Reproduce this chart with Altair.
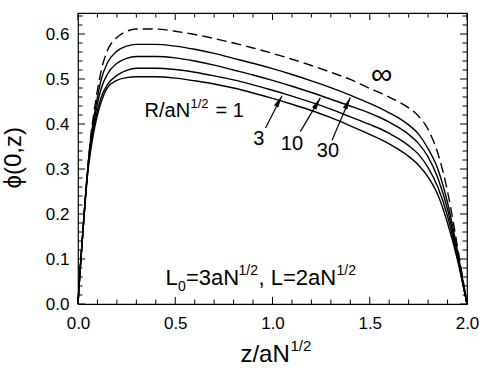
import altair as alt
import pandas as pd

# ---------------- data ----------------
z = [0, 0.01, 0.02, 0.035, 0.05, 0.065, 0.08, 0.1, 0.12, 0.15, 0.2, 0.25, 0.3, 0.4, 0.5,
     0.6, 0.7, 0.8, 0.9, 1.0, 1.1, 1.2, 1.3, 1.4, 1.5, 1.55, 1.6, 1.65, 1.7, 1.75, 1.8,
     1.85, 1.9, 1.95, 2.0]

phi_inf = [0, 0.07, 0.13, 0.22, 0.30, 0.37, 0.42, 0.475, 0.52, 0.562, 0.592, 0.606, 0.611,
           0.611, 0.606, 0.599, 0.590, 0.580, 0.569, 0.557, 0.544, 0.530, 0.515, 0.499,
           0.479, 0.470, 0.460, 0.449, 0.436, 0.418, 0.388, 0.335, 0.25, 0.13, 0.0]
phi_30 = [0, 0.07, 0.13, 0.22, 0.30, 0.365, 0.41, 0.46, 0.50, 0.535, 0.562, 0.573, 0.577,
          0.577, 0.573, 0.566, 0.557, 0.546, 0.535, 0.523, 0.510, 0.496, 0.481, 0.464,
          0.446, 0.436, 0.425, 0.413, 0.398, 0.378, 0.345, 0.30, 0.225, 0.12, 0.0]
phi_10 = [0, 0.07, 0.13, 0.22, 0.30, 0.36, 0.40, 0.445, 0.48, 0.51, 0.535, 0.546, 0.550,
          0.550, 0.547, 0.540, 0.531, 0.520, 0.509, 0.497, 0.484, 0.470, 0.455, 0.440,
          0.424, 0.415, 0.404, 0.392, 0.377, 0.357, 0.327, 0.28, 0.21, 0.11, 0.0]
phi_3 = [0, 0.07, 0.13, 0.22, 0.295, 0.35, 0.39, 0.43, 0.46, 0.487, 0.508, 0.519, 0.524,
         0.524, 0.521, 0.515, 0.507, 0.498, 0.487, 0.475, 0.462, 0.448, 0.433, 0.416,
         0.399, 0.39, 0.379, 0.367, 0.352, 0.333, 0.303, 0.26, 0.195, 0.105, 0.0]
phi_1 = [0, 0.07, 0.13, 0.215, 0.29, 0.34, 0.38, 0.42, 0.45, 0.48, 0.497, 0.503, 0.505,
         0.505, 0.502, 0.496, 0.489, 0.480, 0.469, 0.457, 0.444, 0.430, 0.414, 0.396,
         0.377, 0.367, 0.356, 0.343, 0.328, 0.309, 0.282, 0.243, 0.18, 0.10, 0.0]

x_major = [0.0, 0.5, 1.0, 1.5, 2.0]
x_minor = [0.1, 0.2, 0.3, 0.4, 0.6, 0.7, 0.8, 0.9, 1.1, 1.2, 1.3, 1.4, 1.6, 1.7, 1.8, 1.9]
y_major = [0.0, 0.1, 0.2, 0.3, 0.4, 0.5, 0.6]
y_minor = [0.02, 0.04, 0.06, 0.08, 0.12, 0.14, 0.16, 0.18, 0.22, 0.24, 0.26, 0.28,
           0.32, 0.34, 0.36, 0.38, 0.42, 0.44, 0.46, 0.48, 0.52, 0.54, 0.56, 0.58,
           0.62, 0.64]

arrow_label = ["3", "10", "30"]
arrow_tip_z = [1.049, 1.246, 1.40]
arrow_tip_phi = [0.463, 0.458, 0.459]
arrow_tail_z = [0.964, 1.143, 1.306]
arrow_tail_phi = [0.391, 0.383, 0.364]
arrow_angle = [29, 30, 25]
label_z = [0.93, 1.10, 1.285]
label_phi = [0.366, 0.356, 0.339]

inf_label_z = [1.562]
inf_label_phi = [0.509]

# ---------------- styling ----------------
W, H = 389, 291
FONT = "Liberation Sans"
XDOM = [0, 2.0]
YDOM = [0, 0.6467]
MAJ, MIN = 7, 4.5

curves = pd.DataFrame({
    "z": z * 4,
    "phi": phi_1 + phi_3 + phi_10 + phi_30,
    "R": ["1"] * len(z) + ["3"] * len(z) + ["10"] * len(z) + ["30"] * len(z),
})
dashed = pd.DataFrame({"z": z, "phi": phi_inf})

xs = alt.Scale(domain=XDOM, nice=False, zero=False)
ys = alt.Scale(domain=YDOM, nice=False, zero=False)

xaxis = alt.Axis(values=x_major, format=".1f", title=None, ticks=False, tickSize=0,
                 domain=False, grid=False, labelFont=FONT, labelFontSize=17,
                 labelColor="black", labelPadding=11, labelFlush=False)
yaxis = alt.Axis(values=y_major, format=".1f", title=None, ticks=False, tickSize=0,
                 domain=False, grid=False, labelFont=FONT, labelFontSize=17,
                 labelColor="black", labelPadding=9, labelFlush=False)

solid = alt.Chart(curves).mark_line(color="black", strokeWidth=1.4, interpolate="monotone").encode(
    x=alt.X("z:Q", scale=xs, axis=xaxis),
    y=alt.Y("phi:Q", scale=ys, axis=yaxis),
    detail="R:N",
)
dash = alt.Chart(dashed).mark_line(color="black", strokeWidth=1.4, interpolate="monotone",
                                   strokeDash=[10, 5]).encode(
    x=alt.X("z:Q", scale=xs), y=alt.Y("phi:Q", scale=ys))


def xticks(vals, length):
    d = pd.DataFrame({"v": vals})
    bot = alt.Chart(d).mark_rule(color="black", strokeWidth=1).encode(
        x=alt.X("v:Q", scale=xs), y=alt.value(H), y2=alt.value(H - length))
    top = alt.Chart(d).mark_rule(color="black", strokeWidth=1).encode(
        x=alt.X("v:Q", scale=xs), y=alt.value(0), y2=alt.value(length))
    return [bot, top]


def yticks(vals, length):
    d = pd.DataFrame({"v": vals})
    left = alt.Chart(d).mark_rule(color="black", strokeWidth=1).encode(
        y=alt.Y("v:Q", scale=ys), x=alt.value(0), x2=alt.value(length))
    right = alt.Chart(d).mark_rule(color="black", strokeWidth=1).encode(
        y=alt.Y("v:Q", scale=ys), x=alt.value(W), x2=alt.value(W - length))
    return [left, right]


tick_layers = xticks(x_major, MAJ) + xticks(x_minor, MIN) + yticks(y_major, MAJ) + yticks(y_minor, MIN)

arrows = pd.DataFrame({
    "label": arrow_label, "tz": arrow_tip_z, "tp": arrow_tip_phi,
    "sz": arrow_tail_z, "sp": arrow_tail_phi, "ang": arrow_angle,
    "lz": label_z, "lp": label_phi,
})
arrow_lines = alt.Chart(arrows).mark_rule(color="black", strokeWidth=1.2).encode(
    x=alt.X("sz:Q", scale=xs), y=alt.Y("sp:Q", scale=ys),
    x2="tz:Q", y2="tp:Q")
arrow_heads = alt.Chart(arrows).mark_point(
    shape="M0,0 L0.4,2 L-0.4,2 Z", filled=True, color="black", size=150, opacity=1).encode(
    x=alt.X("tz:Q", scale=xs), y=alt.Y("tp:Q", scale=ys),
    angle=alt.Angle("ang:Q", scale=None))
arrow_text = alt.Chart(arrows).mark_text(font=FONT, fontSize=20, color="black",
                                         align="center", baseline="middle").encode(
    x=alt.X("lz:Q", scale=xs), y=alt.Y("lp:Q", scale=ys), text="label:N")

inf_text = alt.Chart(pd.DataFrame({"z": inf_label_z, "p": inf_label_phi, "t": ["∞"]})).mark_text(
    font=FONT, fontSize=30, color="black", align="center", baseline="middle").encode(
    x=alt.X("z:Q", scale=xs), y=alt.Y("p:Q", scale=ys), text="t:N")


def rich(anchor_z, anchor_p, pieces):
    out = []
    for txt, dx, dy, size in pieces:
        d = pd.DataFrame({"z": [anchor_z], "p": [anchor_p], "t": [txt]})
        out.append(alt.Chart(d).mark_text(font=FONT, fontSize=size, color="black",
                                          align="left", baseline="alphabetic",
                                          dx=dx, dy=dy).encode(
            x=alt.X("z:Q", scale=xs), y=alt.Y("p:Q", scale=ys), text="t:N"))
    return out


r_label = rich(0.342, 0.416, [("R/aN", 0, 0, 20), ("1/2", 46, -9, 13), ("= 1", 71, 0, 20)])
l_label = rich(0.45, 0.042, [("L", 0, 0, 22), ("0", 12.5, 6, 14), ("=3aN", 20.5, 0, 22),
                             ("1/2", 73, -10, 14), (", L=2aN", 93, 0, 22), ("1/2", 171, -10, 14)])
x_title = rich(0.835, -0.13, [("z/aN", 0, 0, 24), ("1/2", 50, -11, 15)])

y_title = alt.Chart(pd.DataFrame({"z": [-0.33], "p": [0.325], "t": ["ϕ(0,z)"]})).mark_text(
    font=FONT, fontSize=24, color="black", align="center", baseline="middle", angle=270).encode(
    x=alt.X("z:Q", scale=xs), y=alt.Y("p:Q", scale=ys), text="t:N")

chart = alt.layer(
    solid, dash, *tick_layers, arrow_lines, arrow_heads, arrow_text, inf_text,
    *r_label, *l_label, *x_title, y_title
).properties(
    width=W, height=H,
    autosize=alt.AutoSizeParams(type="none"),
    padding={"left": 78, "top": 13, "right": 12, "bottom": 65},
).configure_view(stroke="black", strokeWidth=1.2)

chart.save("out.html", embed_options={"renderer": "svg", "actions": False})
